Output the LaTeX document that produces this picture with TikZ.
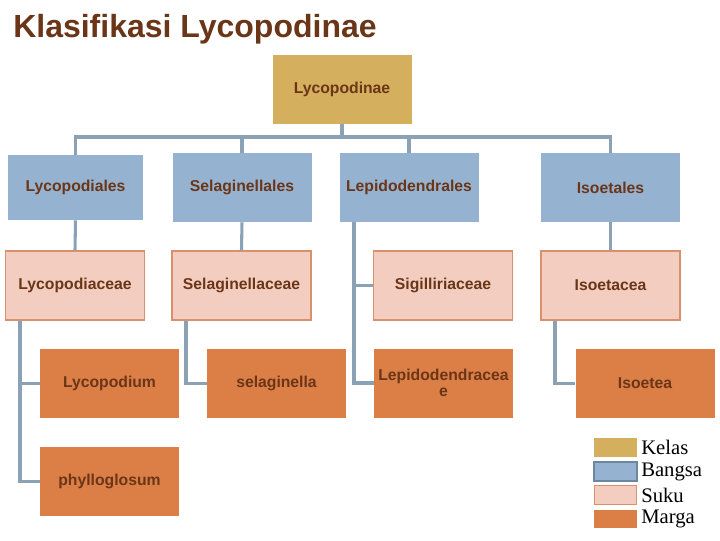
\documentclass[tikz,border=0pt]{standalone}
\usepackage{fontspec}
\setmainfont{Liberation Sans}
\newfontfamily\legendfont{Liberation Serif}
\definecolor{kelas}{HTML}{D4AF5E}
\definecolor{bangsa}{HTML}{95B3D0}
\definecolor{suku}{HTML}{F2CDC0}
\definecolor{sukuedge}{HTML}{D9906C}
\definecolor{marga}{HTML}{DB7F47}
\definecolor{conncol}{HTML}{8BA2B6}
\definecolor{txt}{HTML}{6B3518}
\definecolor{bangsaedge}{HTML}{6C87A0}
\begin{document}
\begin{tikzpicture}[x=0.75pt,y=-0.75pt,
  box/.style={inner sep=0pt, minimum width=104.25pt, minimum height=51.75pt, text=txt, font=\bfseries\fontsize{11.8}{13.5}\selectfont, align=center},
  kbox/.style={box, fill=kelas},
  bbox/.style={box, fill=bangsa},
  sbox/.style={box, fill=suku, draw=sukuedge, line width=0.8pt},
  mbox/.style={box, fill=marga},
  conn/.style={draw=conncol, line width=2.3pt},
  sw/.style={inner sep=0pt, minimum width=32pt, minimum height=14pt},
  lg/.style={anchor=west, font=\legendfont\fontsize{15.5}{17}\selectfont, inner sep=0pt}
]
\useasboundingbox (0,0) rectangle (720,540);
\node[anchor=base west, text=txt, font=\bfseries\fontsize{24}{28}\selectfont, inner sep=0pt] (title) at (13,37) {Klasifikasi Lycopodinae};

\node[kbox] (top) at (342,89.5) {Lycopodinae};

\node[bbox, minimum width=101.25pt, minimum height=48.75pt] (o1) at (75.5,187.5) {Lycopodiales};
\node[bbox] (o2) at (242,187.5) {Selaginellales};
\node[bbox] (o3) at (409,187.5) {Lepidodendrales};
\node[bbox] (o4) at (610.5,187.5) {Isoetales};

\node[sbox] (f1) at (75,285.5) {Lycopodiaceae};
\node[sbox] (f2) at (241.5,285.5) {Selaginellaceae};
\node[sbox] (f3) at (443,285.5) {Sigilliriaceae};
\node[sbox] (f4) at (610.5,285.5) {Isoetacea};

\node[mbox] (g1) at (109.5,383.5) {Lycopodium};
\node[mbox] (g1b) at (109.5,481.5) {phylloglosum};
\node[mbox] (g2) at (276.5,383.5) {selaginella};
\node[mbox] (g3) at (443.5,383) {Lepidodendracea\\[-1pt]e};
\node[mbox] (g4) at (645,383.5) {Isoetea};

% connectors
\draw[conn] (top.south) -- (top.south |- 0,137);
\draw[conn] (o1.north) |- (o4.north |- 0,137) -- (o4.north);
\draw[conn] (o2.north) -- (o2.north |- 0,137);
\draw[conn] (o3.north) -- (o3.north |- 0,137);

\draw[conn] (o1.south) -- (f1.north);
\draw[conn] (o2.south) -- (f2.north);
\draw[conn] (o4.south) -- (f4.north);
\draw[conn] (o3.south -| 354,0) |- (g3.west);
\draw[conn] (f3.west -| 354,0) -- (f3.west);

\draw[conn] (f1.south -| 20,0) |- (g1b.west);
\draw[conn] (g1.west -| 20,0) -- (g1.west);
\draw[conn] (f2.south -| 186,0) |- (g2.west);
\draw[conn] (f4.south -| 555,0) |- (g4.west);

% legend
\node[sw, fill=kelas] (lk) at (615.5,447.5) {};
\node[sw, fill=bangsa, draw=bangsaedge, line width=1.6pt] (lb) at (615.5,471.5) {};
\node[sw, fill=suku, draw=sukuedge, line width=0.8pt] (ls) at (615.5,495) {};
\node[sw, fill=marga] (lm) at (615.5,519) {};
\node[lg] (tk) at (641,447.5) {Kelas};
\node[lg] (tb) at (641,471.5) {Bangsa};
\node[lg] (ts) at (641,495) {Suku};
\node[lg] (tm) at (641,519) {Marga};
\end{tikzpicture}
\end{document}
